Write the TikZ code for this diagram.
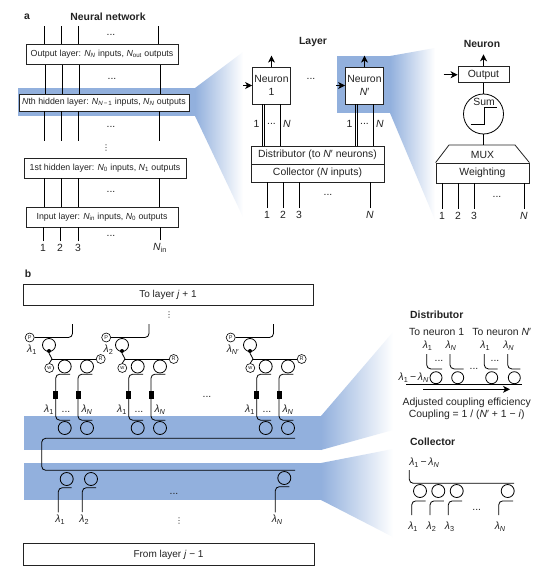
\documentclass[tikz,border=0pt]{standalone}
\usepackage{xcolor}
\usepackage{fontspec}
\setmainfont{Liberation Sans}
\newfontfamily\dotsfont{DejaVu Sans}
\usetikzlibrary{arrows.meta,positioning,calc}
\definecolor{netblue}{RGB}{146,176,221}
\definecolor{netink}{RGB}{35,35,35}
\newcommand{\lam}[1]{\textit{λ}\textsubscript{#1}}
\newcommand{\nn}[1]{\textit{N}\textsubscript{#1}}

\begin{document}
\begin{tikzpicture}[x=1pt, y=-1pt, every node/.style={font=\fontsize{10.4}{12.5}\selectfont, text=netink, inner sep=0pt}]
\tikzstyle{lay} = [rectangle, draw=netink, fill=white, line width=0.8pt, align=center]
\tikzstyle{netlay} = [lay, font=\fontsize{8.8}{10.5}\selectfont]
\tikzstyle{head} = [font=\fontsize{10.4}{12}\selectfont\bfseries]
\tikzstyle{vdot} = [font=\fontsize{8}{9}\selectfont\dotsfont]
\tikzstyle{wire} = [line width=0.8pt, color=black]
\tikzstyle{a} = [-{Stealth[length=7pt,width=7pt,inset=2pt]}, line width=0.9pt, color=black]
\tikzstyle{ring} = [circle, draw=black, line width=0.8pt, minimum size=13pt]
\tikzstyle{tag} = [circle, draw=black, line width=0.6pt, minimum size=9pt, font=\fontsize{5.5}{6}\selectfont]
\tikzstyle{guide} = [line width=0.8pt, color=black, rounded corners=4pt]
\tikzstyle{mod} = [rectangle, fill=black, minimum width=5pt, minimum height=7.5pt]
\useasboundingbox (0,0) rectangle (541,570);
\fill [white] (0,0) rectangle (541,570);

% blue bands and wedges
\fill [netblue] (18,88) rectangle (195,116);
\fill [netblue] (337,56) rectangle (390,113);
\fill [netblue] (24,416) rectangle (321,450);
\fill [netblue] (24,463) rectangle (321,500);
\shade [left color=netblue, right color=white] (195,88) -- (243,52) -- (243,217) -- (195,116) -- cycle;
\shade [left color=netblue, right color=white] (390,56) -- (435,48) -- (435,220) -- (390,113) -- cycle;
\shade [left color=netblue, right color=white] (321,416) -- (393,332) -- (393,430) -- (321,450) -- cycle;
\shade [left color=netblue, right color=white] (321,463) -- (393,449) -- (393,537) -- (321,500) -- cycle;

% a: neural network
\node [head] (panela) at (27,17) {a};
\node [head] (nettitle) at (108,17) {Neural network};
\coordinate (outtop) at (0,26);
\coordinate (nthlow) at (0,141);
\node [netlay, minimum width=152pt, minimum height=20pt] (outlayer) at (102,54.5) {Output layer: \nn{\textit{N}} inputs, \nn{out} outputs};
\node [netlay, minimum width=170pt, minimum height=17pt] (nthlayer) at (104,102.5) {\textit{N}th hidden layer: \nn{\textit{N}\,−\,1} inputs, \nn{\textit{N}} outputs};
\node [netlay, minimum width=162pt, minimum height=20pt] (firstlayer) at (105,168) {1st hidden layer: \nn{0} inputs, \nn{1} outputs};
\node [netlay, minimum width=152pt, minimum height=20pt] (inlayer) at (102,217) {Input layer: \nn{in} inputs, \nn{0} outputs};
\foreach \x in {44.5,61.5,78.5,158.5}
  \draw [wire] (\x,0 |- outtop) -- (\x,0 |- outlayer.north);
\foreach \x in {45.5,62.5,79.5,160}
  \draw [wire] (\x,0 |- outlayer.south) -- (\x,0 |- nthlayer.north);
\foreach \x in {44.5,61.5,78.5,159.5} {
  \draw [wire] (\x,0 |- nthlayer.south) -- (\x,0 |- nthlow);
  \draw [wire] (\x,0 |- firstlayer.south) -- (\x,0 |- inlayer.north);
}
\foreach \x/\y in {111/35,112/79,111/127,111/192,111/236}
  \node (netdots\y) at (\x,\y) {...};
\node [vdot] (netvdots) at (106,148) {⋮};
\foreach \n/\x/\t in {n1/43/1,n2/60/2,n3/78/3,n4/160/{\nn{in}}} {
  \node (\n) at (\x,248) {\t};
  \draw [wire] ([yshift=3pt]\n.north) -- (\n |- inlayer.south);
}

% a: layer
\node [head] (layertitle) at (313,42) {Layer};
\node [lay, minimum width=38pt, minimum height=37pt] (neuron1) at (271.5,85.5) {Neuron\\1};
\node [lay, minimum width=38pt, minimum height=37pt] (neuronn) at (364.5,85.5) {Neuron\\\textit{N}′};
\node [lay, minimum width=133pt, minimum height=18pt] (dist) at (317.5,155) {Distributor (to \textit{N}′ neurons)};
\node [lay, minimum width=133pt, minimum height=18pt] (coll) at (317.5,173) {Collector (\textit{N} inputs)};
\foreach \v in {neuron1,neuronn} {
  \coordinate (\v out) at ($(\v.north)+(0,-11)$);
  \coordinate (\v in) at ($(\v.west)+(-9,0)$);
  \draw [a] (\v.north) -- (\v out);
  \draw [a] (\v in) -- (\v.west);
  \foreach \d in {-9.5,-7.5,9}
    \draw [wire] ([xshift=\d pt]\v.south) -- ([xshift=\d pt]\v.south |- dist.north);
  \node (\v one) at ($(\v.south)+(-15,20)$) {1};
  \node (\v dots) at ($(\v.south)+(0,20)$) {...};
  \node (\v last) at ($(\v.south)+(15.5,20)$) {\textit{N}};
}
\node (layerdots) at (311,79) {...};
\foreach \n/\x/\t in {l1/267/1,l2/283/2,l3/299/3,l4/370/{\textit{N}}} {
  \node (\n) at (\x,215) {\t};
  \draw [wire] ([yshift=3pt]\n.north) -- (\n |- coll.south);
}
\node (collouts) at (328,195) {...};

% a: neuron
\node [head] (neurontitle) at (482,44) {Neuron};
\node [lay, minimum width=51pt, minimum height=16pt] (output) at (483.5,74.7) {Output};
\coordinate (outarrow) at ($(output.north)+(0,-12)$);
\coordinate (inarrow) at ($(output.west)+(-14,0)$);
\draw [a] (output.north) -- (outarrow);
\draw [a] (inarrow) -- (output.west);
\node [circle, draw=black, line width=0.8pt, minimum size=40pt] (sum) at (483.5,114) {};
\node (sumtext) at (484,101.5) {Sum};
\draw [wire] (470.7,124) -- (484,124) -- (484,107) -- (496.7,107);
\node [lay, minimum width=93pt, minimum height=20pt] (weight) at (482.5,173) {Weighting};
\coordinate (muxtop) at (483.5,145);
\draw [lay] (weight.north west) -- (449,145) -- (515,145) -- (weight.north east);
\node (mux) at (482.5,154.5) {MUX};
\draw [wire] (output.south) -- (sum.north);
\draw [wire] (sum.south) -- (muxtop);
\foreach \n/\x/\t in {m1/442/1,m2/458/2,m3/474/3,m4/524/{\textit{N}}} {
  \node (\n) at (\x,215.5) {\t};
  \draw [wire] ([yshift=3pt]\n.north) -- (\n |- weight.south);
}
\node (weightdots) at (497,197) {...};

% b: layer with the rings
\node [head] (panelb) at (28,274) {b};
\node [lay, minimum width=290pt, minimum height=21pt, font=\fontsize{10}{12}\selectfont] (tolayer) at (168,295) {To layer \textit{j} + 1};
\node [lay, minimum width=291pt, minimum height=22pt, font=\fontsize{10}{12}\selectfont] (fromlayer) at (168.5,554.5) {From layer \textit{j} − 1};
\node [vdot] (topdots) at (169,315) {⋮};
\node [vdot] (botdots) at (179,521) {⋮};
\foreach \u/\dx/\dpx/\lab in {a/0/0/{\lam{1}},b/73/76.5/{\lam{2}},c/201/201/{\lam{\textit{N}′}}} {
  \node [tag] (p\u) at (29.7+\dpx,337.5) {P};
  \node [ring] (add\u) at (49+\dx,345) {};
  \node [circle, fill=black, minimum size=4pt] (drop\u) at (49+\dx,351) {};
  \node [tag] (r\u) at (100.7+\dx,359) {R};
  \node [tag] (w\u) at (49.3+\dx,368) {w};
  \node (lam\u) at (32+\dpx,349.5) {\lab};
  \coordinate (pend\u) at (72.5+\dpx,324);
  \draw [guide] (p\u.east) -| (pend\u);
  \coordinate (tap\u) at (52+\dx,359);
  \draw [wire] (drop\u.south) -- (tap\u) -- (w\u.north);
  \draw [wire] (tap\u) -- (r\u.west);
  \foreach \c/\x/\lx/\t in {1/64.7/49/{\lam{1}},2/87/87/{\lam{\textit{N}}}} {
    \node [ring] (top\u\c) at (\x+\dx,366.5) {};
    \node [ring] (low\u\c) at (\x+\dx,428) {};
    \draw [guide] ($(top\u\c.south)+(5.3,0.8)$) -- ++(-14.3,0) -- ++(0,46) -- ++(14.3,0);
    \node [mod] (mod\u\c) at (\x+\dx-9,395) {};
    \node (wl\u\c) at (\lx+\dx,410) {\t};
  }
  \node (chdots\u) at (66+\dx,412) {...};
}
\node (unitdots) at (207,397) {...};
\coordinate (busend) at (295,438.3);
\coordinate (buslow) at (295,470.3);
\draw [guide] (busend) -- (41.7,438.3) -- (41.7,470.3) -- (buslow);
\foreach \n/\x/\y/\gx/\t in {1/66.7/479/58.3/{\lam{1}},2/91/479/82.3/{\lam{2}},3/284.3/478/275.3/{\lam{\textit{N}}}} {
  \node [ring] (col\n) at (\x,\y) {};
  \node (colam\n) at (\gx+2,520) {\t};
  \draw [guide] ($(col\n.south)+(5,1.8)$) -| ([yshift=3pt]\gx,0 |- colam\n.north);
}
\node (coldots) at (174,494) {...};

% b: distributor detail
\node [head, anchor=west] (disttitle) at (410,315) {Distributor};
\node (toa) at (436.7,332) {To neuron 1};
\node (tob) at (501.7,332) {To neuron \textit{N}′};
\foreach \n/\x/\gx/\t in {1/436/426.7/{\lam{1}},2/457.7/450/{\lam{\textit{N}}},3/491.7/484.3/{\lam{1}},4/514.3/507.7/{\lam{\textit{N}}}} {
  \node [ring, minimum size=12pt] (dring\n) at (\x,377.7) {};
  \node (dlam\n) at (\gx+1,346) {\t};
  \draw [guide] (\gx,354) |- ($(dring\n.north)+(6,-2.4)$);
}
\node (ddots1) at (439,361) {...};
\node (ddots2) at (495,361) {...};
\node (ddots3) at (474,369) {...};
\node [anchor=east] (dbuslab) at (429,378) {\lam{1}\,−\,\lam{\textit{N}}};
\coordinate (dbusa) at (406,384.7);
\coordinate (dbusb) at (521.7,384.7);
\draw [wire] (dbusa) -- (dbusb);
\coordinate (dara) at (423,389.3);
\coordinate (darb) at (510,389.3);
\draw [a] (dara) -- (darb);
\node (adjust) at (466.7,403) {Adjusted coupling efficiency};
\node (coupling) at (466.7,414.5) {Coupling = 1 / (\textit{N}′ + 1 − \textit{i})};

% b: collector detail
\node [head, anchor=west] (colltitle) at (410,441.7) {Collector};
\node (cbuslab) at (424.3,463) {\lam{1}\,−\,\lam{\textit{N}}};
\coordinate (cbusa) at (409.3,470);
\coordinate (cbusb) at (514,483.3);
\draw [guide] (cbusa) |- (cbusb);
\foreach \n/\x/\gx/\t in {1/420/411.7/{\lam{1}},2/438.3/430/{\lam{2}},3/456.7/448.3/{\lam{3}},4/507.7/498.7/{\lam{\textit{N}}}} {
  \node [ring] (cring\n) at (\x,491) {};
  \node (clam\n) at (\gx+1.5,526.5) {\t};
  \draw [guide] ($(cring\n.south)+(5.5,3)$) -| (\gx,515);
}
\node (cdots) at (476.7,510) {...};
\end{tikzpicture}
\end{document}
